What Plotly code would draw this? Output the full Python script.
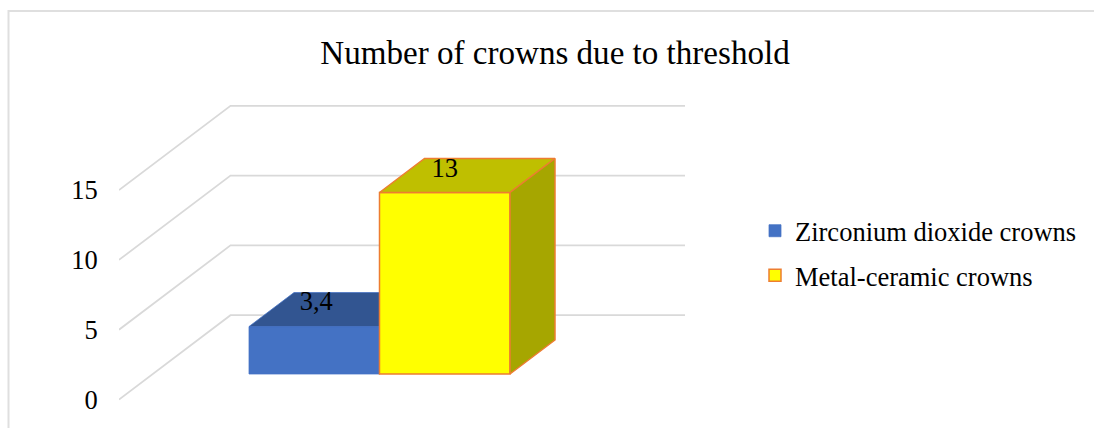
import plotly.graph_objects as go

# ---- data ----
series_names = ["Zirconium dioxide crowns", "Metal-ceramic crowns"]
series_values = [3.4, 13]
value_labels = ["3,4", "13"]
tick_values = [0, 5, 10, 15]
title_text = "Number of crowns due to threshold"

# ---- styles / geometry ----
W, H = 1094, 428
FONT = "Liberation Serif"
front_colors = ["#4472C4", "#FFFF00"]
top_colors = ["#325591", "#BFBF00"]
side_colors = ["#325591", "#A6A600"]
edge_colors = ["#4472C4", "#ED7D31"]
GRID = "#D9D9D9"

PX_PER_VALUE = 13.96
PX_PER_SLOT = 130.5
X0_PX = 314.25
Y0_PX = 399.5
LEFT_PX = 119

x_range = [(LEFT_PX - X0_PX) / PX_PER_SLOT, (W - X0_PX) / PX_PER_SLOT]
y_range = [(Y0_PX - H) / PX_PER_VALUE, Y0_PX / PX_PER_VALUE]
wall_dx, wall_dy = 111.5 / PX_PER_SLOT, 84.3 / PX_PER_VALUE
bar_dx, bar_dy = 45 / PX_PER_SLOT, 34 / PX_PER_VALUE
bar_base = (Y0_PX - 374) / PX_PER_VALUE
right_x = (685 - X0_PX) / PX_PER_SLOT
label_lift = [23 / PX_PER_VALUE, 22.5 / PX_PER_VALUE]
label_shift = [2 / PX_PER_SLOT, 0]

fig = go.Figure()
for i, (name, v) in enumerate(zip(series_names, series_values)):
    xa, ya = ("x", "y") if i == 0 else ("x2", "y2")
    top = bar_base + v
    l, r = i - 0.5, i + 0.5
    line = dict(color=edge_colors[i], width=1.5 if i else 0.75)
    fig.add_trace(go.Bar(x=[i], y=[v], base=[bar_base], width=[1], name=name,
                         legendgroup=name, xaxis=xa, yaxis=ya,
                         marker=dict(color=front_colors[i], line=line)))
    # top face
    fig.add_trace(go.Scatter(
        x=[l, r, r + bar_dx, l + bar_dx, l],
        y=[top, top, top + bar_dy, top + bar_dy, top],
        mode="lines", fill="toself", fillcolor=top_colors[i], line=line,
        showlegend=False, hoverinfo="skip", xaxis=xa, yaxis=ya))
    # side face
    fig.add_trace(go.Scatter(
        x=[r, r + bar_dx, r + bar_dx, r, r],
        y=[bar_base, bar_base + bar_dy, top + bar_dy, top, bar_base],
        mode="lines", fill="toself", fillcolor=side_colors[i], line=line,
        showlegend=False, hoverinfo="skip", xaxis=xa, yaxis=ya))
    # value label
    fig.add_trace(go.Scatter(
        x=[i + label_shift[i]], y=[top + label_lift[i]], text=[value_labels[i]],
        mode="text", textposition="middle center",
        textfont=dict(family=FONT, size=26.5, color="#000000"),
        showlegend=False, hoverinfo="skip", xaxis="x2", yaxis="y2"))

shapes = []
for t in tick_values:
    path = f"M {x_range[0]} {t} L {x_range[0] + wall_dx} {t + wall_dy} L {right_x} {t + wall_dy}"
    shapes.append(dict(type="path", path=path, xref="x", yref="y", layer="below",
                       line=dict(color=GRID, width=1.75)))

def px_x(p):
    return (p - LEFT_PX) / (W - LEFT_PX)

def px_y(p):
    return 1 - p / H

shapes.append(dict(type="path", xref="paper", yref="paper", layer="below",
                   path=f"M {px_x(8.5)} {px_y(H)} L {px_x(8.5)} {px_y(11)} L {px_x(W)} {px_y(11)}",
                   line=dict(color="#DFDFDF", width=2)))

fig.update_layout(
    width=W, height=H, autosize=False,
    margin=dict(l=LEFT_PX, r=0, t=0, b=0, pad=0),
    paper_bgcolor="#FFFFFF", plot_bgcolor="rgba(0,0,0,0)",
    font=dict(family=FONT, size=26.5, color="#000000"),
    title=dict(text=title_text, x=555 / W, xanchor="center", xref="container",
               y=1 - 52 / H, yanchor="middle", yref="container",
               font=dict(family=FONT, size=33.1, color="#000000")),
    xaxis=dict(range=x_range, visible=False, fixedrange=True),
    xaxis2=dict(range=x_range, visible=False, overlaying="x", fixedrange=True),
    yaxis=dict(range=y_range, tickvals=tick_values, ticktext=[str(t) for t in tick_values],
               showgrid=False, zeroline=False, showline=False,
               ticks="outside", ticklen=15, tickcolor="rgba(0,0,0,0)",
               tickfont=dict(family=FONT, size=26.5, color="#000000"), fixedrange=True),
    yaxis2=dict(range=y_range, visible=False, overlaying="y", fixedrange=True),
    legend=dict(x=px_x(755), y=px_y(207), xanchor="left", yanchor="top",
                xref="paper", yref="paper", bgcolor="rgba(0,0,0,0)",
                tracegroupgap=7, font=dict(family=FONT, size=26.5, color="#000000")),
    shapes=shapes,
    showlegend=True,
)
fig.write_html("out.html", config=dict(displayModeBar=False),
               post_script="document.body.style.margin='0';")
